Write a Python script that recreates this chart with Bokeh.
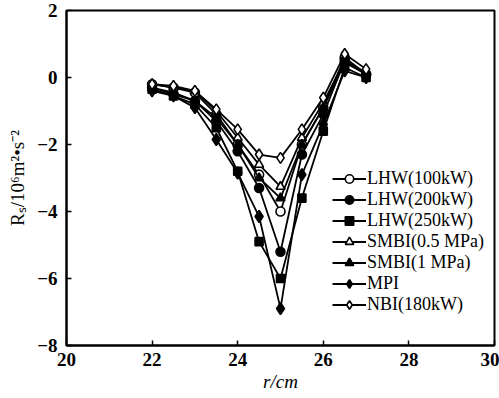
from bokeh.plotting import figure
from bokeh.embed import file_html
from bokeh.resources import INLINE
from bokeh.models import Legend, LegendItem, FixedTicker, Range1d

r_cm = [22, 22.5, 23, 23.5, 24, 24.5, 25, 25.5, 26, 26.5, 27]

lhw100 = [-0.2, -0.3, -0.45, -1.1, -2.0, -2.9, -4.0, -2.0, -0.9, 0.6, 0.1]
lhw200 = [-0.3, -0.5, -0.7, -1.3, -2.2, -3.3, -5.2, -2.3, -1.1, 0.5, 0.1]
lhw250 = [-0.35, -0.55, -0.8, -1.5, -2.8, -4.9, -6.0, -3.6, -1.6, 0.3, 0.0]
smbi05 = [-0.2, -0.3, -0.4, -1.0, -1.8, -2.6, -3.26, -1.8, -0.75, 0.5, 0.15]
smbi1 = [-0.3, -0.45, -0.7, -1.2, -2.0, -3.0, -3.6, -2.0, -0.9, 0.45, 0.1]
mpi = [-0.4, -0.55, -0.9, -1.85, -2.85, -4.15, -6.9, -2.9, -1.4, 0.2, 0.0]
nbi = [-0.2, -0.25, -0.4, -0.95, -1.55, -2.3, -2.4, -1.55, -0.6, 0.7, 0.25]

labels = ["LHW(100kW)", "LHW(200kW)", "LHW(250kW)", "SMBI(0.5 MPa)",
          "SMBI(1 MPa)", "MPI", "NBI(180kW)"]
series = [lhw100, lhw200, lhw250, smbi05, smbi1, mpi, nbi]
markers = ["circle", "circle", "square", "triangle", "triangle", "diamond", "diamond"]
fills = ["white", "black", "black", "white", "black", "black", "white"]
sizes = [9, 9, 8, 9, 9, 12, 11]

x_ticks = [20, 22, 24, 26, 28, 30]
y_ticks = [-8, -6, -4, -2, 0, 2]

SERIF = "Liberation Serif"

p = figure(width=499, height=398, output_backend="svg", toolbar_location=None,
           x_range=Range1d(20, 30), y_range=Range1d(-8, 2),
           min_border_left=66, min_border_right=5, min_border_top=10,
           min_border_bottom=53)
p.xgrid.visible = False
p.ygrid.visible = False
p.outline_line_color = "black"
p.outline_line_width = 2

items = []
for lab, ys, mk, fc, sz in zip(labels, series, markers, fills, sizes):
    l = p.line(r_cm, ys, line_color="black", line_width=1.8)
    s = p.scatter(r_cm, ys, marker=mk, size=sz, fill_color=fc,
                  line_color="black", line_width=1.6)
    items.append(LegendItem(label=lab, renderers=[l, s]))

leg = Legend(items=items, location=(266, 30), padding=0, margin=0, spacing=0,
             label_height=21, glyph_height=21, glyph_width=34, label_standoff=1,
             border_line_alpha=0, background_fill_alpha=0,
             label_text_font=SERIF, label_text_font_size="18px",
             label_text_color="black")
p.add_layout(leg, "center")

for ax in (p.xaxis[0], p.yaxis[0]):
    ax.major_tick_in = 5
    ax.major_tick_out = 0
    ax.minor_tick_line_color = None
    ax.axis_line_color = "black"
    ax.axis_line_width = 2
    ax.major_tick_line_width = 1.5
    ax.major_label_text_font = SERIF
    ax.major_label_text_font_size = "19px"
    ax.major_label_text_font_style = "bold"
    ax.major_label_text_color = "black"
    ax.axis_label_text_font = SERIF
    ax.axis_label_text_font_size = "19px"
    ax.axis_label_text_font_style = "normal"
    ax.axis_label_text_color = "black"

p.xaxis.ticker = FixedTicker(ticks=x_ticks)
p.yaxis.ticker = FixedTicker(ticks=y_ticks)
p.yaxis.major_label_overrides = {t: ("\u2212" + str(-t) if t < 0 else str(t)) for t in y_ticks}
p.xaxis.major_label_standoff = 7
p.yaxis.major_label_standoff = 9
p.xaxis.axis_label = "r/cm"
p.xaxis.axis_label_standoff = 2
p.xaxis.axis_label_text_font_style = "italic"
p.yaxis.axis_label = "R\u209b/10\u2076m\u00b2\u2022s\u207b\u00b2"
p.yaxis.axis_label_standoff = 6

open("out.html", "w").write(file_html(p, INLINE))
